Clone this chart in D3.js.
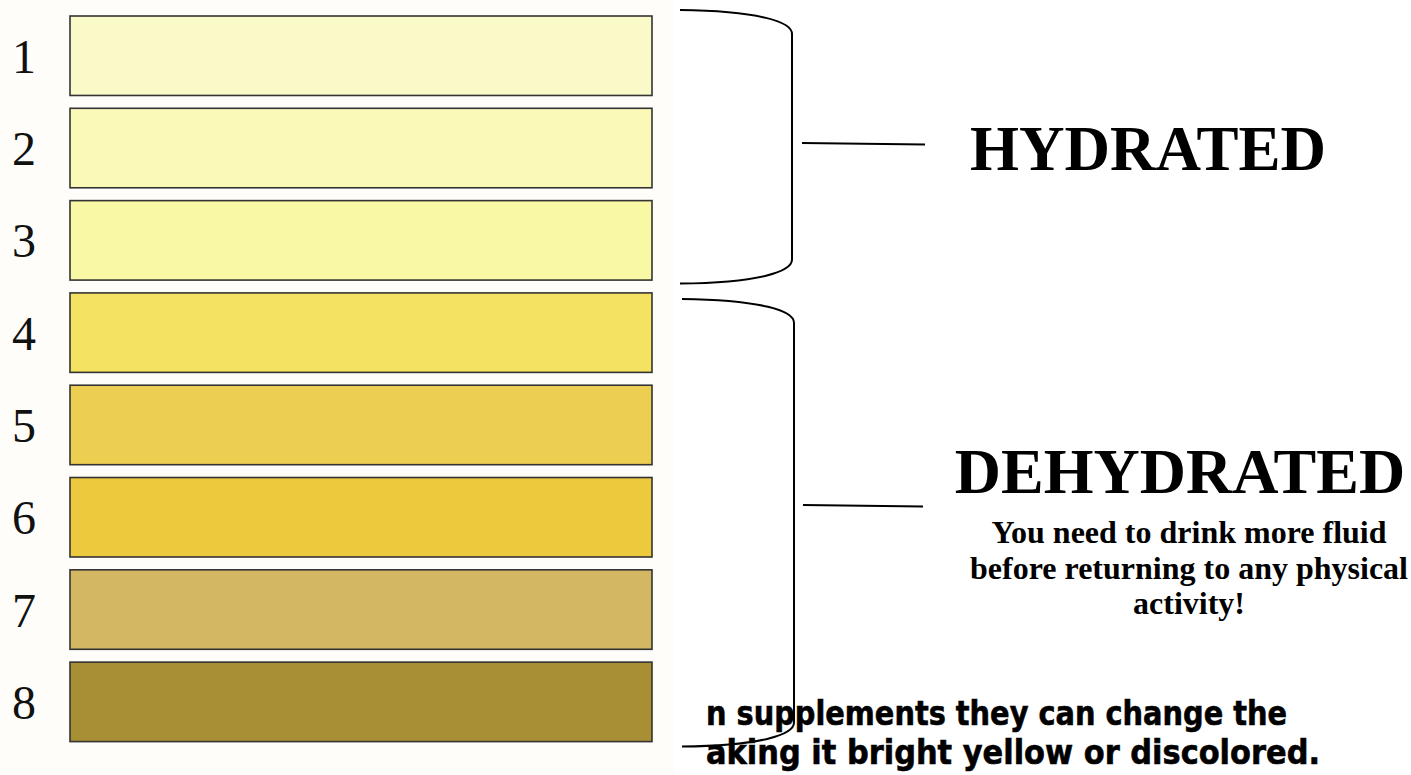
<!DOCTYPE html>
<html>
<head>
<meta charset="utf-8">
<script src="https://cdn.jsdelivr.net/npm/d3@7"></script>
<style>
  html, body { margin: 0; padding: 0; background: #fff; }
  svg { display: block; }
</style>
</head>
<body>
<div id="chart"></div>
<script>
// urine colour chart data
const levels = [1, 2, 3, 4, 5, 6, 7, 8];
const levelColors = ['#fafac8', '#faf9b7', '#f9f9a5', '#f4e360', '#ecce50', '#ecc93d', '#d3b762', '#a98f34'];
const groupNames = ['HYDRATED', 'DEHYDRATED'];
const groupFrom = [1, 4];
const groupTo = [3, 8];
const adviceLines = ['You need to drink more fluid', 'before returning to any physical', 'activity!'];
const noteLines = ['n supplements they can change the', 'aking it bright yellow or discolored.'];

const width = 1411, height = 775;

const svg = d3.select('#chart')
    .append('svg')
    .attr('width', width)
    .attr('height', height);

// very faint cream behind the swatches (scanned look)
svg.append('rect')
    .attr('x', 0).attr('y', 0)
    .attr('width', 674).attr('height', height)
    .attr('fill', '#fefdf9');

const y = d3.scaleBand()
    .domain(levels)
    .range([16, 741.6])
    .paddingInner(0.139)
    .paddingOuter(0);

const x = d3.scaleLinear()
    .domain([0, 1])
    .range([70, 652]);

// swatches
svg.selectAll('.swatch')
    .data(levels)
    .enter()
    .append('rect')
    .attr('class', 'swatch')
    .attr('x', x(0))
    .attr('y', d => y(d))
    .attr('width', x(1) - x(0))
    .attr('height', y.bandwidth())
    .attr('fill', (d, i) => levelColors[i])
    .attr('stroke', '#333')
    .attr('stroke-width', 1.6);

// level numbers
svg.selectAll('.level-label')
    .data(levels)
    .enter()
    .append('text')
    .attr('class', 'level-label')
    .attr('x', 24)
    .attr('y', d => y(d) + y.bandwidth() / 2 + 17)
    .attr('text-anchor', 'middle')
    .attr('font-family', '"Liberation Serif", "Times New Roman", serif')
    .attr('font-size', 48)
    .attr('fill', '#111')
    .text(d => d);

// bracket geometry (layout only)
const bracketLayout = [
    { left: 680, right: 792, topPad: -6, botPad: 3.5, tick: [802, 925], tickY: 143 },
    { left: 682, right: 794, topPad: 6, botPad: 5, tick: [803, 923], tickY: 505 }
];

groupNames.forEach((name, i) => {
    const b = bracketLayout[i];
    const top = y(groupFrom[i]) + b.topPad;
    const bot = y(groupTo[i]) + y.bandwidth() + b.botPad;
    const path = d3.path();
    path.moveTo(b.left, top);
    path.bezierCurveTo(b.left + 80, top + 1, b.right, top + 12, b.right, top + 24);
    path.lineTo(b.right, bot - 24);
    path.bezierCurveTo(b.right, bot - 12, b.left + 80, bot - 1, b.left, bot);
    svg.append('path')
        .attr('d', path.toString())
        .attr('fill', 'none')
        .attr('stroke', '#000')
        .attr('stroke-width', 2);
    svg.append('line')
        .attr('x1', b.tick[0]).attr('y1', b.tickY)
        .attr('x2', b.tick[1]).attr('y2', b.tickY + 1.5)
        .attr('stroke', '#000')
        .attr('stroke-width', 2);
});

const serif = '"Liberation Serif", "Times New Roman", serif';

svg.append('text')
    .attr('x', 1148).attr('y', 170)
    .attr('text-anchor', 'middle')
    .attr('font-family', serif)
    .attr('font-weight', 'bold')
    .attr('font-size', 63)
    .text(groupNames[0]);

svg.append('text')
    .attr('x', 1180).attr('y', 493)
    .attr('text-anchor', 'middle')
    .attr('font-family', serif)
    .attr('font-weight', 'bold')
    .attr('font-size', 64)
    .text(groupNames[1]);

svg.selectAll('.advice')
    .data(adviceLines)
    .enter()
    .append('text')
    .attr('class', 'advice')
    .attr('x', 1189)
    .attr('y', (d, i) => 543 + i * 35.5)
    .attr('text-anchor', 'middle')
    .attr('font-family', serif)
    .attr('font-weight', 'bold')
    .attr('font-size', 32)
    .text(d => d);

// cut-off note at the bottom (narrow heavy sans)
const noteWidths = [581, 614];
svg.selectAll('.note')
    .data(noteLines)
    .enter()
    .append('text')
    .attr('class', 'note')
    .attr('x', 706)
    .attr('y', (d, i) => 725 + i * 39)
    .attr('font-family', '"DejaVu Sans", Verdana, sans-serif')
    .attr('font-weight', 'bold')
    .attr('font-size', 33)
    .attr('textLength', (d, i) => noteWidths[i])
    .attr('lengthAdjust', 'spacingAndGlyphs')
    .attr('stroke', '#000')
    .attr('stroke-width', 0.6)
    .text(d => d);
</script>
</body>
</html>
